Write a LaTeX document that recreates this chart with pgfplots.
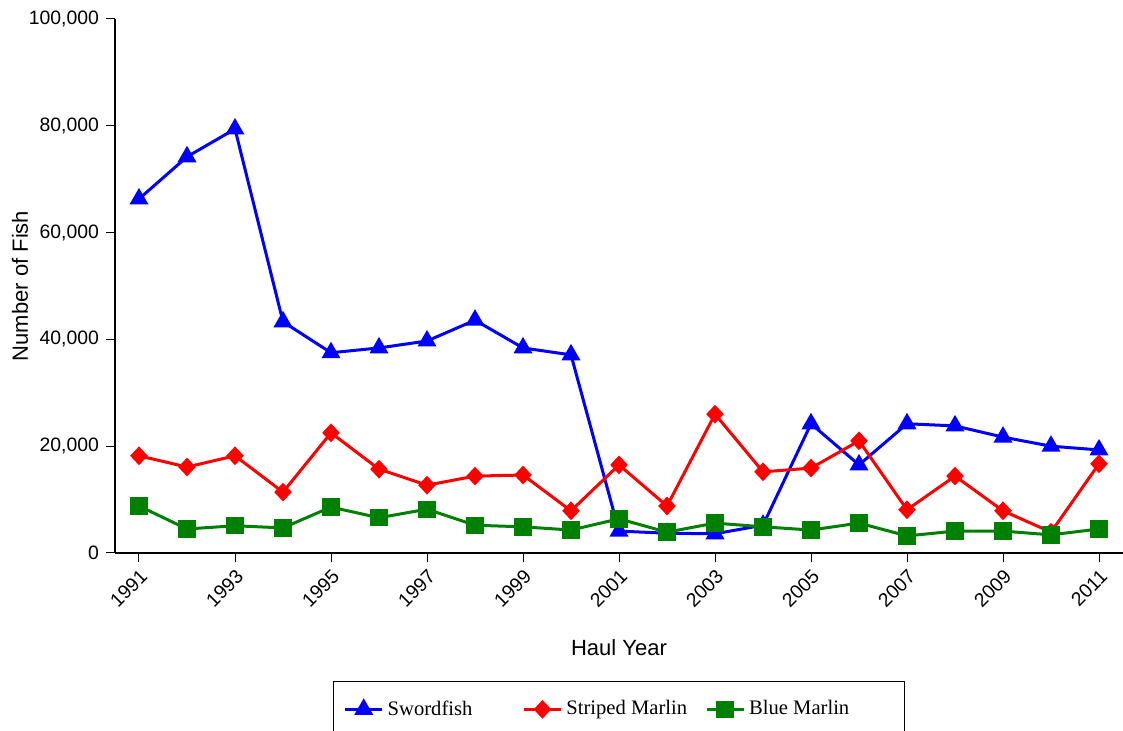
\documentclass[border=0pt]{standalone}
\usepackage{pgfplots}
\pgfplotsset{compat=1.18}
\usepackage{fontspec}
\setmainfont{Liberation Sans}
\newfontfamily\legendfont{Liberation Serif}
\definecolor{sfblue}{RGB}{0,0,255}
\definecolor{smred}{RGB}{255,0,0}
\definecolor{bmgreen}{RGB}{0,128,0}

\begin{document}
\begin{tikzpicture}
\begin{axis}[
  at={(0,0)}, anchor=south west,
  scale only axis,
  width=504pt, height=267pt,
  xmin=1990.5, xmax=2011.5,
  ymin=0, ymax=100000,
  axis x line*=bottom, axis y line*=left,
  axis line style={line width=1pt, black},
  tick style={line width=0.5pt, black},
  tick align=outside,
  major tick length=4.5pt,
  xtick={1991,1993,...,2011},
  ytick={0,20000,...,100000},
  scaled y ticks=false,
  /pgf/number format/fixed,
  /pgf/number format/1000 sep={,},
  /pgf/number format/assume math mode=true,
  x tick label style={/pgf/number format/1000 sep={}, rotate=45, anchor=north east, font=\fontsize{9.7}{11}\selectfont, inner sep=2pt},
  y tick label style={font=\fontsize{9.7}{11}\selectfont},
  xlabel={Haul Year},
  ylabel={Number of Fish},
  label style={font=\fontsize{11}{13}\selectfont},
  xlabel style={at={(axis description cs:0.5,-0.1779)}, anchor=center},
  ylabel style={at={(axis description cs:-0.0942,0.5)}, anchor=center},
  clip=false,
  every axis plot/.append style={line width=1.5pt},
  legend columns=3,
  legend style={at={(0.5,-0.2397)}, anchor=north, font=\legendfont\fontsize{10.3}{12}\selectfont,
    draw=black, line width=0.6pt, inner xsep=5pt, inner ysep=7.5pt,
    /tikz/column 2/.style={column sep=23pt},
    /tikz/column 4/.style={column sep=7pt}},
  legend image code/.code={
    \draw[mark repeat=2, mark phase=2] plot coordinates {(0pt,0pt) (9.25pt,0pt) (18.5pt,0pt)};},
]
\addplot[sfblue, mark=triangle*, mark size=4pt, mark options={solid}] coordinates {
(1991,66300) (1992,74200) (1993,79400) (1994,43300) (1995,37500) (1996,38400)
(1997,39700) (1998,43600) (1999,38400) (2000,37100) (2001,4100) (2002,3700)
(2003,3600) (2004,5200) (2005,24200) (2006,16500) (2007,24200) (2008,23800)
(2009,21700) (2010,20000) (2011,19300)};
\addlegendentry{Swordfish}
\addplot[smred, mark=diamond*, mark size=3.6pt, mark options={solid, xscale=1.25}] coordinates {
(1991,18200) (1992,16100) (1993,18200) (1994,11400) (1995,22500) (1996,15700)
(1997,12700) (1998,14400) (1999,14600) (2000,7900) (2001,16500) (2002,8800)
(2003,26000) (2004,15200) (2005,15900) (2006,21000) (2007,8100) (2008,14400)
(2009,7900) (2010,3900) (2011,16700)};
\addlegendentry{Striped Marlin}
\addplot[bmgreen, mark=square*, mark size=3.6pt, mark options={solid}] coordinates {
(1991,8800) (1992,4500) (1993,5100) (1994,4700) (1995,8600) (1996,6600)
(1997,8200) (1998,5200) (1999,4900) (2000,4300) (2001,6400) (2002,3900)
(2003,5600) (2004,4900) (2005,4300) (2006,5600) (2007,3200) (2008,4100)
(2009,4100) (2010,3400) (2011,4500)};
\addlegendentry{Blue Marlin\hspace*{20.5pt}}
\end{axis}
\pgfresetboundingbox
\useasboundingbox (-57.5pt,-89pt) rectangle (504pt,276.5pt);
\end{tikzpicture}
\end{document}
